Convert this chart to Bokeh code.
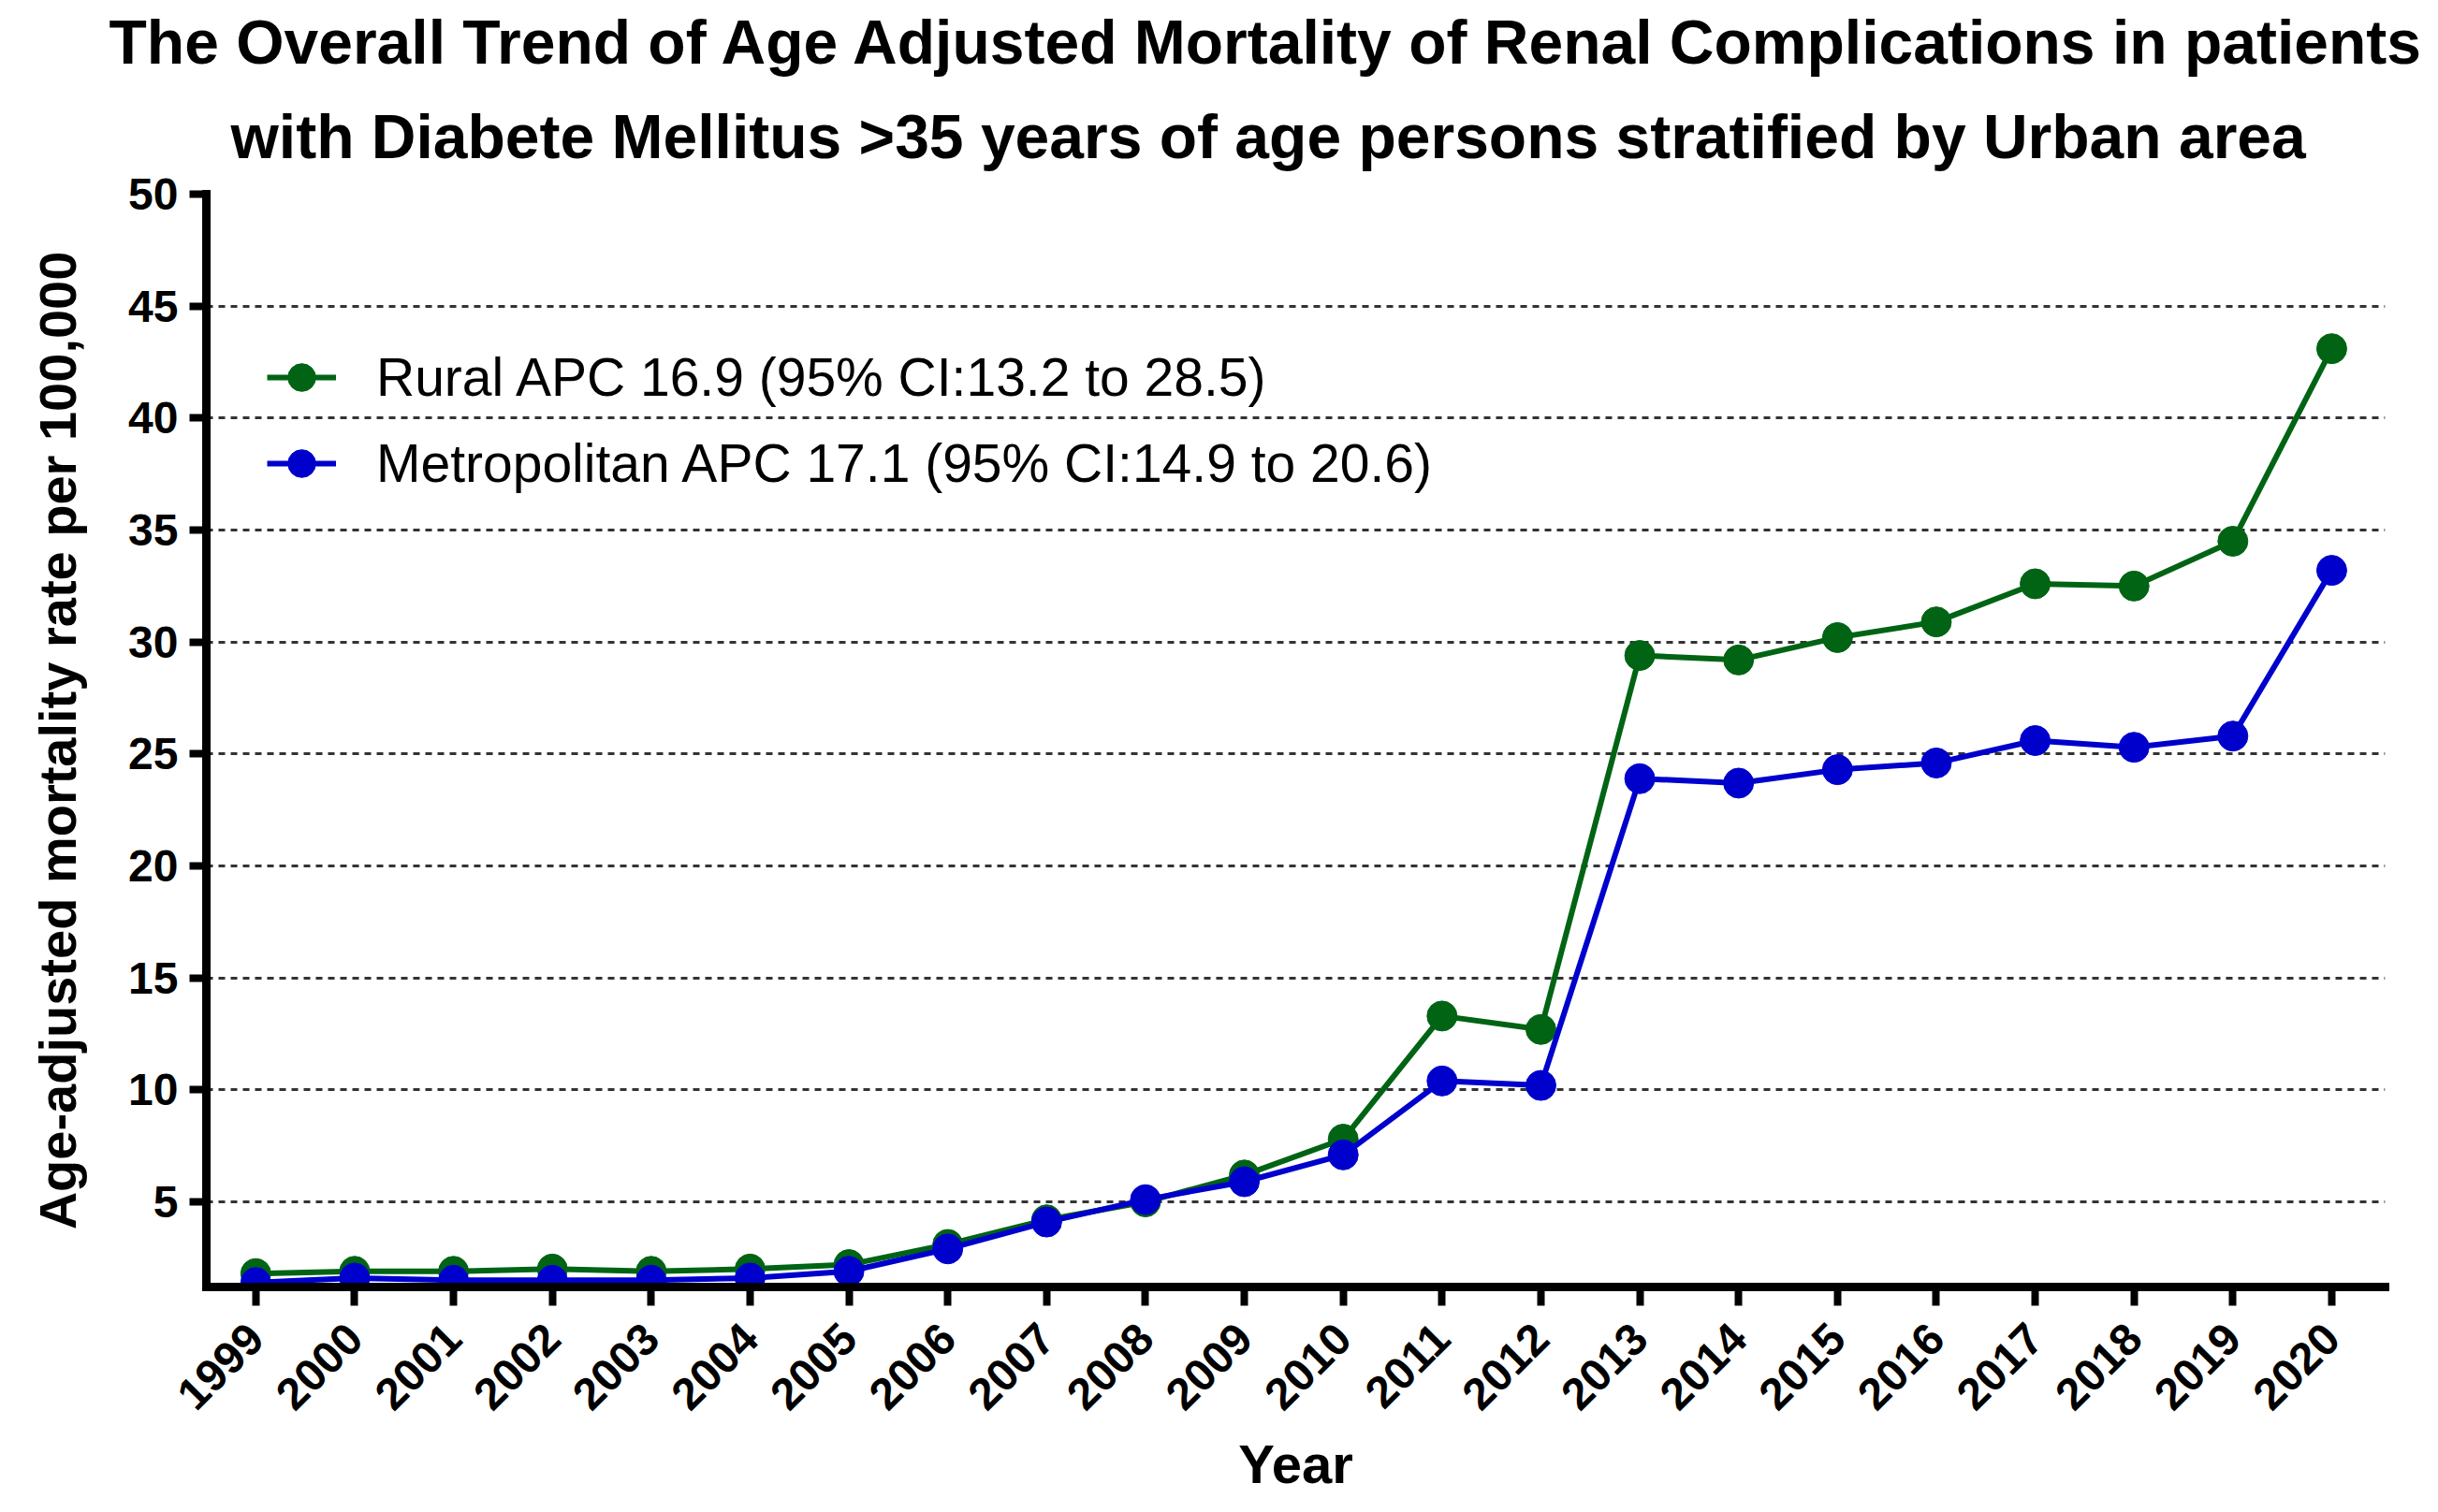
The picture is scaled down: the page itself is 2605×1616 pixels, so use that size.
import math
from bokeh.plotting import figure
from bokeh.models import Range1d, FixedTicker, Legend, LegendItem, Title
from bokeh.embed import file_html
from bokeh.resources import INLINE

# ---- data ----
years = list(range(1999, 2021))
rural = [1.8, 1.9, 1.9, 2.0, 1.9, 2.0, 2.2, 3.1, 4.2, 5.0, 6.2, 7.8,
         13.3, 12.7, 29.4, 29.2, 30.2, 30.9, 32.6, 32.5, 34.5, 43.1]
metro = [1.4, 1.6, 1.5, 1.5, 1.5, 1.6, 1.9, 2.9, 4.1, 5.1, 5.9, 7.1,
         10.4, 10.2, 23.9, 23.7, 24.3, 24.6, 25.6, 25.3, 25.8, 33.2]
y_ticks = [5, 10, 15, 20, 25, 30, 35, 40, 45, 50]
grid_ticks = [5, 10, 15, 20, 25, 30, 35, 40, 45]
rural_label = "Rural APC 16.9 (95% CI:13.2 to 28.5)"
metro_label = "Metropolitan APC 17.1 (95% CI:14.9 to 20.6)"
title_line1 = "The Overall Trend of Age Adjusted Mortality of Renal Complications in patients"
title_line2 = "with Diabete Mellitus >35 years of age persons stratified by Urban area"
x_title = "Year"
y_title = "Age-adjusted mortality rate per 100,000"

GREEN = "#006414"
BLUE = "#0000CD"
FONT = "Liberation Sans"

p = figure(width=2589, height=1600, output_backend="svg", toolbar_location=None,
           x_range=Range1d(1998.5, 2020.54), y_range=Range1d(1.2, 50),
           min_border_left=220, min_border_right=41, min_border_top=207,
           min_border_bottom=225, title=None)
p.outline_line_color = None
p.background_fill_color = "white"
p.border_fill_color = "white"

# lines + markers
r_line = p.line(years, rural, line_color=GREEN, line_width=6)
r_pts = p.scatter(years, rural, size=32, fill_color=GREEN, line_color=GREEN)
m_line = p.line(years, metro, line_color=BLUE, line_width=6)
m_pts = p.scatter(years, metro, size=32, fill_color=BLUE, line_color=BLUE)

# axes
for ax in (p.xaxis[0], p.yaxis[0]):
    ax.axis_line_width = 9
    ax.axis_line_color = "black"
    ax.axis_line_cap = "square"
    ax.major_tick_line_width = 8
    ax.major_tick_line_color = "black"
    ax.major_tick_in = 0
    ax.minor_tick_line_color = None
    ax.major_label_text_font = FONT
    ax.major_label_text_font_style = "bold"
    ax.major_label_text_font_size = "48px"
    ax.major_label_text_color = "black"
    ax.axis_label_text_font = FONT
    ax.axis_label_text_font_style = "bold"
    ax.axis_label_text_color = "black"

p.xaxis.ticker = FixedTicker(ticks=years)
p.xaxis.major_label_orientation = math.pi / 4
p.xaxis.major_tick_out = 20
p.xaxis.major_label_standoff = 27
p.xaxis.axis_label = x_title
p.xaxis.axis_label_text_font_size = "58px"
p.xaxis.axis_label_standoff = 8

p.yaxis.ticker = FixedTicker(ticks=y_ticks)
p.yaxis.major_tick_out = 18
p.yaxis.major_label_standoff = 12
p.yaxis.axis_label = y_title
p.yaxis.axis_label_text_font_size = "56px"
p.yaxis.axis_label_standoff = 41

# grid
p.xgrid.grid_line_color = None
p.ygrid.ticker = FixedTicker(ticks=grid_ticks)
p.ygrid.grid_line_color = "#333333"
p.ygrid.grid_line_width = 3
p.ygrid.grid_line_dash = "7 6"

# legend
legend = Legend(items=[LegendItem(label=rural_label, renderers=[r_line, r_pts]),
                       LegendItem(label=metro_label, renderers=[m_line, m_pts])],
                location=(65, 834), orientation="vertical",
                glyph_width=74, glyph_height=92, label_height=92,
                label_standoff=43, spacing=0, padding=0, margin=0,
                label_text_font=FONT, label_text_font_size="57px",
                label_text_color="black",
                border_line_color=None, background_fill_alpha=0)
p.add_layout(legend, "center")

# titles (added nearest-first)
p.add_layout(Title(text=title_line2, align="left", offset=26, standoff=50,
                   text_line_height=1.0,
                   text_font=FONT, text_font_size="66px",
                   text_font_style="bold", text_color="black"), "above")
p.add_layout(Title(text=title_line1, align="left", offset=-104, standoff=0,
                   text_line_height=1.0,
                   text_font=FONT, text_font_size="66px",
                   text_font_style="bold", text_color="black"), "above")

open("out.html", "w").write(file_html(p, INLINE))
